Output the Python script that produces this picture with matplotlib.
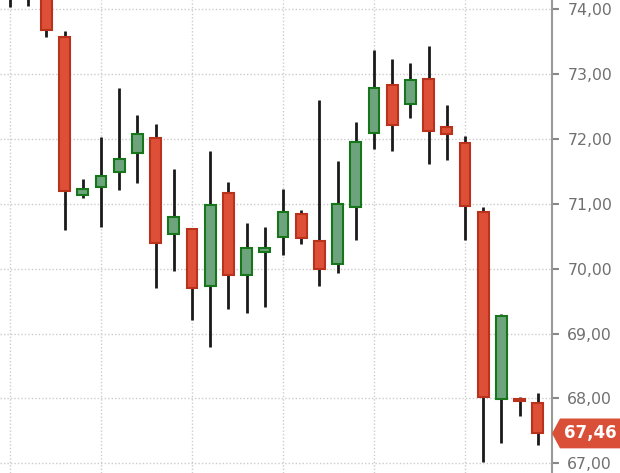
import matplotlib
matplotlib.use("Agg")
import matplotlib.pyplot as plt
from matplotlib.patches import Rectangle, Polygon
from matplotlib import transforms

# OHLC (first candles run past the top edge)
opens  = [74.60, 74.50, 74.30, 73.57, 71.13, 71.26, 71.49, 71.78, 72.01, 70.53,
          70.61, 69.73, 71.16, 69.90, 70.26, 70.49, 70.84, 70.43, 70.07, 70.95,
          72.09, 72.83, 72.54, 72.92, 72.18, 71.94, 70.87, 67.99, 67.99, 67.93]
highs  = [74.80, 74.70, 74.50, 73.66, 71.38, 72.03, 72.78, 72.37, 72.23, 71.53,
          70.63, 71.81, 71.33, 70.70, 70.64, 71.23, 70.90, 72.60, 71.66, 72.26,
          73.37, 73.23, 73.17, 73.43, 72.52, 72.04, 70.95, 69.30, 68.02, 68.08]
lows   = [74.03, 74.05, 73.57, 70.59, 71.09, 70.64, 71.21, 71.32, 69.70, 69.96,
          69.21, 68.79, 69.38, 69.32, 69.41, 70.21, 70.38, 69.73, 69.93, 70.44,
          71.84, 71.81, 72.32, 71.61, 71.67, 70.44, 67.02, 67.31, 67.73, 67.28]
closes = [74.40, 74.60, 73.68, 71.20, 71.23, 71.43, 71.69, 72.07, 70.39, 70.80,
          69.70, 70.98, 69.90, 70.32, 70.32, 70.87, 70.47, 69.99, 71.00, 71.95,
          72.78, 72.21, 72.91, 72.12, 72.07, 70.96, 68.02, 69.27, 67.96, 67.46]

y_ticks = [67, 68, 69, 70, 71, 72, 73, 74]

RED_FILL, RED_EDGE = "#dd4f36", "#b8321c"
GREEN_FILL, GREEN_EDGE = "#6da47e", "#17761a"

fig = plt.figure(figsize=(6.2, 4.73), dpi=100)
ax = fig.add_axes([0, 0, 552 / 620, 1])

n = len(opens)
w = 0.6
for i in range(n):
    o, h, l, c = opens[i], highs[i], lows[i], closes[i]
    up = c >= o
    ax.plot([i, i], [l, h], color="#1a1a1a", lw=2, solid_capstyle="butt", zorder=2)
    bottom = min(o, c)
    height = max(abs(c - o), 0.03)
    ax.add_patch(Rectangle((i - w / 2, bottom), w, height,
                           facecolor=GREEN_FILL if up else RED_FILL,
                           edgecolor=GREEN_EDGE if up else RED_EDGE,
                           lw=1.5, zorder=3))

ax.set_xlim(-0.55, 29.78)
ax.set_ylim(66.85, 74.14)

ax.set_xticks(range(0, n, 5))
ax.set_yticks(y_ticks)
ax.set_yticklabels([f"{v:.2f}".replace(".", ",") for v in y_ticks])
ax.grid(True, color="#cccccc", linestyle=(0, (1, 1.5)), lw=1)
ax.set_axisbelow(True)

ax.yaxis.tick_right()
ax.tick_params(axis="y", colors="#888888", labelcolor="#707070", length=5,
               width=1.5, labelsize=11.3, pad=6)
ax.tick_params(axis="x", length=0, labelbottom=False)
for s in ["top", "left", "bottom"]:
    ax.spines[s].set_visible(False)
ax.spines["right"].set_color("#999999")
ax.spines["right"].set_linewidth(1.5)

# last price marker
last = closes[-1]
tr = transforms.blended_transform_factory(ax.transAxes, ax.transData)
hh = 0.23
x1 = 1.0 + 8 / 552
x2 = 1.0 + 68 / 552
ax.add_patch(Polygon([(1.0, last), (x1, last + hh), (x2, last + hh),
                      (x2, last - hh), (x1, last - hh)], closed=True,
                     transform=tr, facecolor="#da4f37", edgecolor="none",
                     clip_on=False, zorder=5))
ax.text((x1 + x2) / 2, last, f"{last:.2f}".replace(".", ","), transform=tr,
        ha="center", va="center", color="white", fontsize=12,
        fontweight="bold", zorder=6, clip_on=False)

fig.savefig("out.png", dpi=100)
